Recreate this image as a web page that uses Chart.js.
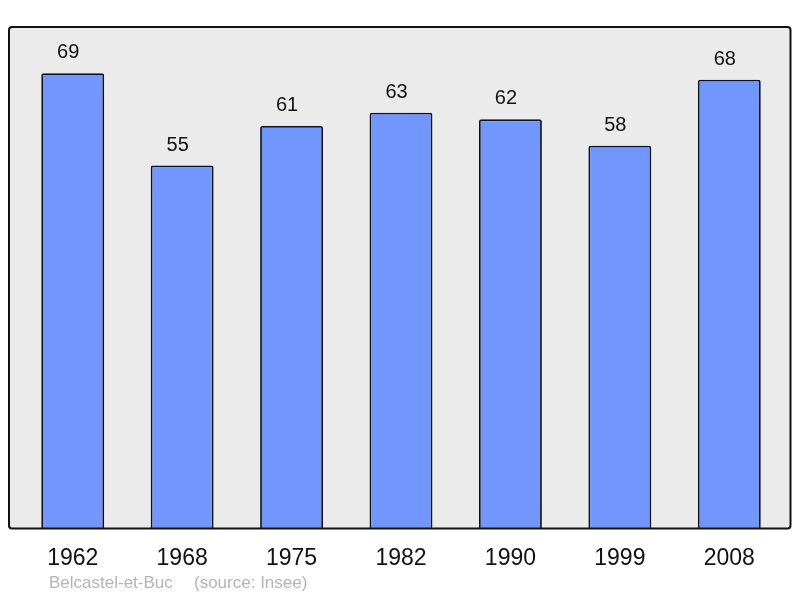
<!DOCTYPE html>
<html>
<head>
<meta charset="utf-8">
<script src="https://cdn.jsdelivr.net/npm/chart.js@4.4.0/dist/chart.umd.min.js"></script>
<style>
html,body{margin:0;padding:0;background:#fff;}
#wrap{width:800px;height:598px;position:relative;}
</style>
</head>
<body>
<div id="wrap"><canvas id="c" width="800" height="598"></canvas></div>
<script>
const categories = ["1962","1968","1975","1982","1990","1999","2008"];
const populations = [69,55,61,63,62,58,68];
const footerName = "Belcastel-et-Buc";
const footerSource = "(source: Insee)";

const framePlugin = {
  id: 'frame',
  beforeDraw(chart) {
    const ctx = chart.ctx, a = chart.chartArea;
    const x0 = a.left - 9, x1 = a.right + 6.5, y0 = a.top, y1 = a.bottom;
    ctx.save();
    ctx.beginPath();
    if (ctx.roundRect) ctx.roundRect(x0, y0, x1 - x0, y1 - y0, 3); else ctx.rect(x0, y0, x1 - x0, y1 - y0);
    ctx.fillStyle = '#ebebeb';
    ctx.fill();
    ctx.restore();
  },
  afterDatasetsDraw(chart) {
    const ctx = chart.ctx, a = chart.chartArea;
    const x0 = a.left - 9, x1 = a.right + 6.5, y0 = a.top, y1 = a.bottom;
    ctx.save();
    ctx.beginPath();
    if (ctx.roundRect) ctx.roundRect(x0, y0, x1 - x0, y1 - y0, 3); else ctx.rect(x0, y0, x1 - x0, y1 - y0);
    ctx.lineWidth = 2;
    ctx.strokeStyle = '#111';
    ctx.stroke();
    // value labels
    const meta = chart.getDatasetMeta(0);
    ctx.fillStyle = '#111';
    ctx.font = '20px "Liberation Sans", Arial, sans-serif';
    ctx.textAlign = 'center';
    ctx.textBaseline = 'alphabetic';
    meta.data.forEach((bar, i) => {
      ctx.fillText(String(chart.data.datasets[0].data[i]), bar.x - 4.5, bar.y - 15);
    });
    // footer
    ctx.fillStyle = '#b4b4b4';
    ctx.font = '17px "Liberation Sans", Arial, sans-serif';
    ctx.textAlign = 'left';
    ctx.fillText(footerName, 49, 588);
    ctx.fillText(footerSource, 194, 588);
    ctx.restore();
  }
};

new Chart(document.getElementById('c'), {
  type: 'bar',
  data: {
    labels: categories,
    datasets: [{
      data: populations,
      backgroundColor: '#7197ff',
      borderColor: '#111',
      borderWidth: 1.8,
      borderRadius: 2,
      borderSkipped: 'bottom',
      barPercentage: 0.575,
      categoryPercentage: 1.0
    }]
  },
  options: {
    responsive: false,
    animation: false,
    devicePixelRatio: 1,
    layout: { padding: { left: 18, right: 16, top: 27, bottom: 10 } },
    plugins: { legend: { display: false }, tooltip: { enabled: false }, title: { display: false } },
    scales: {
      x: {
        grid: { display: false, drawTicks: false },
        border: { display: false },
        ticks: { color: '#111', font: { size: 23, family: '"Liberation Sans", Arial, sans-serif' }, padding: 16, maxRotation: 0 }
      },
      y: {
        display: false,
        min: 0,
        max: 76
      }
    }
  },
  plugins: [framePlugin]
});
</script>
</body>
</html>
